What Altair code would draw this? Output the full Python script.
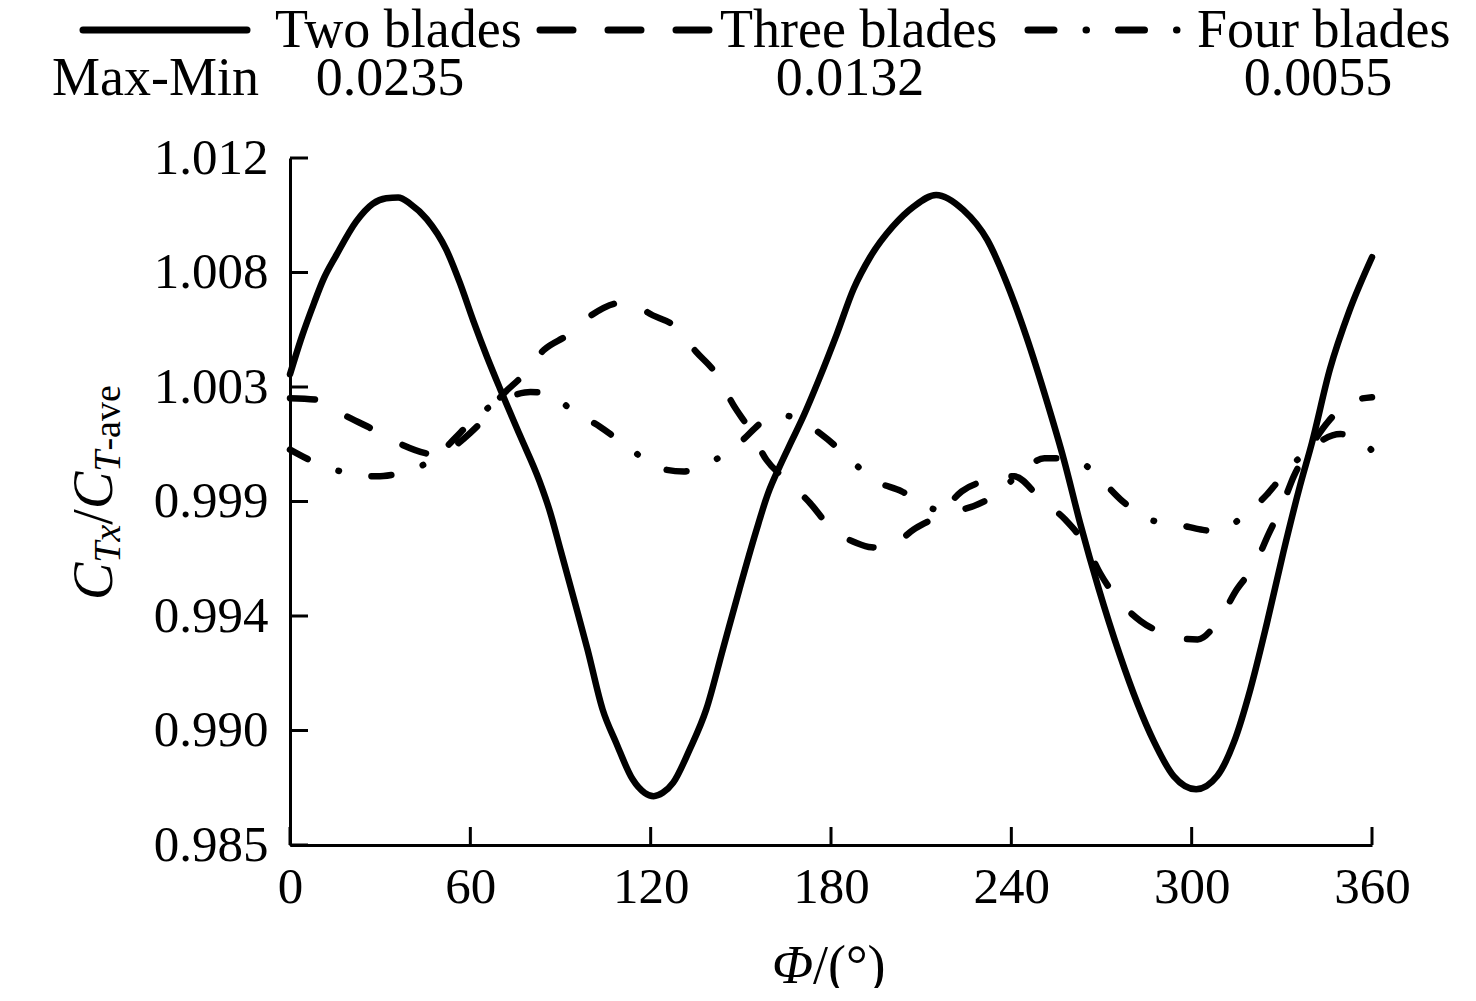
import altair as alt
import pandas as pd

# ---------------- data ----------------
two_phi = [0, 4, 8, 11, 15.5, 22, 27.5, 32, 36, 40, 45.5, 52, 56.5, 61, 65.5, 70, 76.5, 83,
           86.5, 90, 94.5, 99, 104, 108.5, 114, 118, 121, 124, 127.5, 133, 138.5, 144, 149.5,
           155, 159, 163, 167, 171, 176, 182, 187.5, 193, 200.5, 207.5, 215, 224, 232, 238.5,
           245, 252, 257.5, 263, 269, 276, 282, 287.5, 294, 301.5, 308.5, 314, 319.5, 325,
           330.5, 336, 340, 346, 352.5, 360]
two_val = [1.0035, 1.0050, 1.0063, 1.0072, 1.0082, 1.0095, 1.0102, 1.01042, 1.01045, 1.0102,
           1.0096, 1.0084, 1.0071, 1.0056, 1.0042, 1.0029, 1.0011, 0.9993, 0.9981, 0.9966,
           0.99465, 0.99268, 0.99033, 0.98902, 0.98758, 0.98705, 0.98692, 0.98705, 0.98745,
           0.98876, 0.99033, 0.99268, 0.99504, 0.9973, 0.9988, 0.9999, 1.0009, 1.0019,
           1.0033, 1.0051, 1.00685, 1.0081, 1.0093, 1.01009, 1.01055, 1.00996, 1.00878,
           1.00708, 1.00498, 1.00237, 1.00014, 0.9976, 0.9951, 0.9925, 0.99055, 0.98905,
           0.98771, 0.98719, 0.98771, 0.98902, 0.99111, 0.9937, 0.9965, 0.9991, 1.0008,
           1.0037, 1.0060, 1.0081]

three_phi = [0, 9, 18, 26.5, 36, 45, 50, 55, 60, 65, 70, 77, 84.5, 92.5, 100.5, 110, 115, 119,
             128, 135, 142, 147.5, 153, 158.5, 165, 173, 179.5, 188.5, 193.5, 198.5, 207.5,
             216.5, 223.5, 233, 238, 241, 250, 258, 265, 269.5, 275.5, 283, 292, 298, 302,
             309.5, 315, 321, 325.5, 330, 334, 339, 345.5, 353, 360]
three_val = [1.00256, 1.0025, 1.0019, 1.0014, 1.0008, 1.0004, 1.0003, 1.0007, 1.0012, 1.0018,
             1.0026, 1.0034, 1.00446, 1.00505, 1.00584, 1.0063, 1.0063, 1.00593, 1.00538,
             1.0044, 1.00348, 1.0023, 1.00132, 1.00014, 0.99936, 0.99844, 0.99752, 0.99687,
             0.9967, 0.99668, 0.9974, 0.99805, 0.9989, 0.99936, 0.9995, 0.99949, 0.99857,
             0.99778, 0.99673, 0.99569, 0.99465, 0.9938, 0.99327, 0.9931, 0.99308, 0.99393,
             0.99504, 0.99602, 0.9972, 0.99831, 0.9995, 1.00054, 1.00165, 1.00243, 1.0026]

four_phi = [0, 9, 19, 29, 34, 39, 49, 55, 60, 65, 70, 75, 80, 87, 93.5, 103, 112, 120, 125, 131,
            136, 141.5, 149.5, 158, 164, 169, 177, 186, 194, 203.5, 213, 218, 223.5, 233, 242,
            251, 256, 261.5, 269.5, 277, 286, 297, 303, 308, 316.5, 325, 332, 339, 349.5, 355,
            360]
four_val = [1.00054, 1.0000, 0.99962, 0.99949, 0.99955, 0.99968, 1.0003, 1.0010, 1.0016, 1.0021,
            1.0025, 1.0027, 1.0028, 1.00272, 1.0021, 1.00145, 1.00067, 1.00001, 0.99975, 0.99968,
            0.99985, 1.00014, 1.0008, 1.00169, 1.0019, 1.00171, 1.00112, 1.0002, 0.99936, 0.9989,
            0.99825, 0.9981, 0.99818, 0.99864, 0.9995, 1.0002, 1.0002, 1.00014, 0.99939, 0.99851,
            0.99779, 0.99755, 0.9974, 0.99733, 0.99785, 0.99877, 0.99975, 1.00054, 1.00115,
            1.0010, 1.0005]

series_names = ["Two blades", "Three blades", "Four blades"]
max_min_label = "Max-Min"
max_min_values = ["0.0235", "0.0132", "0.0055"]
x_ticks = [0, 60, 120, 180, 240, 300, 360]
y_ticks = [0.985, 0.9895, 0.994, 0.9985, 1.003, 1.0075, 1.012]
y_tick_labels = ["0.985", "0.990", "0.994", "0.999", "1.003", "1.008", "1.012"]

# ---------------- layout / style ----------------
W, H = 1082, 687
FONT = "Liberation Serif"
LW = 6.5
DASH = [25, 37]
DASHDOT = [20, 33, 0.5, 33]

label_js = "[" + ",".join("'%s'" % s for s in y_tick_labels) + "]"
y_expr = "%s[round((datum.value - %g) / %g)]" % (label_js, y_ticks[0], y_ticks[1] - y_ticks[0])

x_enc = alt.X("phi:Q",
              scale=alt.Scale(domain=[x_ticks[0], x_ticks[-1]], nice=False, zero=False),
              axis=alt.Axis(values=x_ticks, format="d", title=None, labelPadding=17,
                            labelFlush=False, labelOverlap=False))
y_enc = alt.Y("v:Q",
              scale=alt.Scale(domain=[y_ticks[0], y_ticks[-1]], nice=False, zero=False),
              axis=alt.Axis(values=y_ticks, labelExpr=y_expr, title=None, labelPadding=22,
                            labelFlush=False, labelOverlap=False))


def line_layer(phi, val, dash=None):
    df = pd.DataFrame({"phi": phi, "v": val})
    kw = dict(color="black", strokeWidth=LW, strokeCap="round", strokeJoin="round",
              interpolate="monotone")
    if dash:
        kw["strokeDash"] = dash
    return alt.Chart(df).mark_line(**kw).encode(x=x_enc, y=y_enc)


def text(s, x, y, size, align="left", style="normal", angle=0):
    return alt.Chart(pd.DataFrame({"t": [s]})).mark_text(
        align=align, baseline="alphabetic", font=FONT, fontSize=size, fontStyle=style,
        angle=angle, color="black").encode(text="t:N", x=alt.value(x), y=alt.value(y))


def sample(x1, x2, y, dash=None):
    kw = dict(color="black", strokeWidth=7, strokeCap="round")
    if dash:
        kw["strokeDash"] = dash
    return alt.Chart(pd.DataFrame({"k": [0]})).mark_rule(**kw).encode(
        x=alt.value(x1), x2=alt.value(x2), y=alt.value(y))


layers = []
# inward ticks
layers.append(alt.Chart(pd.DataFrame({"phi": x_ticks})).mark_rule(color="black", strokeWidth=3)
              .encode(x=x_enc, y=alt.value(H), y2=alt.value(H - 18)))
layers.append(alt.Chart(pd.DataFrame({"v": y_ticks})).mark_rule(color="black", strokeWidth=3)
              .encode(y=y_enc, x=alt.value(0), x2=alt.value(18)))
# data lines
layers.append(line_layer(two_phi, two_val))
layers.append(line_layer(three_phi, three_val, DASH))
layers.append(line_layer(four_phi, four_val, DASHDOT))

# legend (top)
LY = -128
TY = -111
layers.append(sample(-207, -43, LY))
layers.append(text(series_names[0], -15, TY, 54))
layers.append(sample(250, 419, LY, [33, 35]))
layers.append(text(series_names[1], 430, TY, 54))
layers.append(sample(738, 887, LY, [26, 32, 0.5, 32]))
layers.append(text(series_names[2], 907, TY, 54))
# Max-Min row
MY = -63
layers.append(text(max_min_label, -238, MY, 54))
for cx, s in zip([100, 560, 1028], max_min_values):
    layers.append(text(s, cx, MY, 54, align="center"))

# x-axis title:  Φ/(°)
layers.append(text("Φ", 523, 825, 54, align="right", style="italic"))
layers.append(text("/(°)", 523, 825, 54, align="left"))

# y-axis title:  C_Tx / C_T-ave  (rotated)
BIG, SUB = 56, 38
bx, sx = -178, -170
yy = 442
pieces = [("C", BIG, "italic", 0.667), ("Tx", SUB, "italic", 1.0), ("/", BIG, "normal", 0.278),
          ("C", BIG, "italic", 0.667), ("T", SUB, "italic", 0.556), ("-ave", SUB, "normal", 1.721)]
for s, fs, st, em in pieces:
    xpos = bx if fs == BIG else sx
    layers.append(text(s, xpos, yy, fs, align="left", style=st, angle=270))
    yy -= em * fs

chart = alt.layer(*layers).properties(
    width=W, height=H,
    autosize=alt.AutoSizeParams(type="none"),
    padding={"left": 282, "top": 150, "right": 96, "bottom": 143},
    background="white",
).configure_view(stroke=None).configure_axis(
    grid=False, ticks=False, tickSize=0, domainColor="black", domainWidth=3,
    labelFont=FONT, labelFontSize=51, labelColor="black",
)

chart.save("out.html", embed_options={"renderer": "svg", "actions": False})
